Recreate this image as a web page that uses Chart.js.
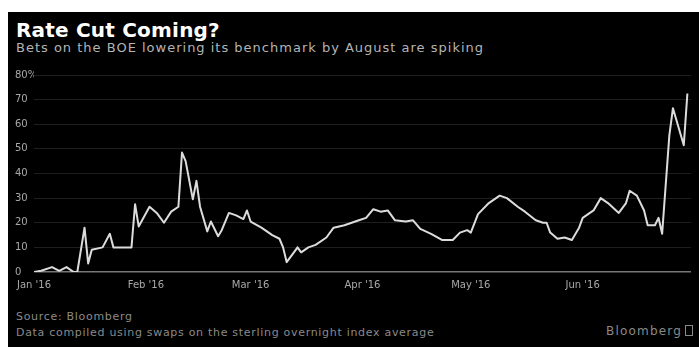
<!DOCTYPE html>
<html>
<head>
<meta charset="utf-8">
<script src="https://cdn.jsdelivr.net/npm/chart.js@4.4.1/dist/chart.umd.min.js"></script>
<style>
  html, body { margin: 0; padding: 0; background: #fff; }
  #wrap { position: relative; width: 699px; height: 347px; overflow: hidden; font-family: "DejaVu Sans", sans-serif; }
  #panel { position: absolute; left: 8px; top: 12px; width: 691px; height: 335px; background: #000; }
  #chart { position: absolute; left: 0; top: 0; }
  .txt { position: absolute; white-space: nowrap; }
  #title { left: 16px; top: 20px; font-size: 20px; line-height: 20px; font-weight: bold; color: #fff; letter-spacing: 0.2px; }
  #sub { left: 16px; top: 41px; font-size: 13px; line-height: 13px; color: #b4b4b4; letter-spacing: 1px; }
  #src { left: 16px; top: 311px; font-size: 11px; line-height: 11px; color: #8a8a8a; letter-spacing: 0.7px; }
  #note { left: 16px; top: 327px; font-size: 11px; line-height: 11px; color: #8a8a8a; letter-spacing: 0.7px; }
  #logo { left: 606px; top: 325px; font-size: 12px; line-height: 12px; color: #8a8a8a; letter-spacing: 1.2px; }
  #logo span { display: inline-block; width: 6px; height: 9px; border: 1px solid #8a8a8a; margin-left: 3px; vertical-align: -1px; }
</style>
</head>
<body>
<div id="wrap">
  <div id="panel"></div>
  <div class="txt" id="title">Rate Cut Coming?</div>
  <div class="txt" id="sub">Bets on the BOE lowering its benchmark by August are spiking</div>
  <div class="txt" id="src">Source: Bloomberg</div>
  <div class="txt" id="note">Data compiled using swaps on the sterling overnight index average</div>
  <div class="txt" id="logo">Bloomberg<span></span></div>
  <canvas id="chart" width="699" height="347"></canvas>
</div>
<script>
// days since 1 Jan 2016
const days = [0, 2, 5, 7, 9, 11, 12, 14, 15, 16, 19, 21, 22, 24, 27, 28, 29, 32, 34, 36,
  38, 40, 41, 42, 44, 45, 46, 48, 49, 51, 52, 54, 56, 58, 59, 60, 63, 66, 68, 69,
  70, 72, 73, 74, 76, 78, 81, 83, 86, 90, 92, 94, 96, 98, 100, 103, 105, 107, 110, 113,
  116, 118, 120, 121, 123, 126, 129, 131, 134, 136, 139, 141, 142, 143, 145, 147, 149, 151, 152, 155,
  157, 159, 162, 164, 165, 167, 169, 170, 172, 173, 174, 176, 177, 180, 181]

// probability of a cut, %
const odds = [0, 0.5, 2, 0.5, 2, 0, 0, 18, 3.5, 9, 10, 15.5, 10, 10, 10, 27.5, 18.5, 26.5, 24, 20,
  24.5, 26.5, 48.5, 45, 29.5, 37, 26.5, 16.5, 20.5, 14.5, 17, 24, 23, 21.5, 25, 20.5, 18, 15, 13.5, 10,
  4, 8, 10, 8, 10, 11, 14, 18, 19, 21, 22, 25.5, 24.5, 25, 21, 20.5, 21, 17.5, 15.5, 13,
  13, 16, 17, 16, 23.5, 28, 31, 30, 26.5, 24.5, 21, 20, 20, 16, 13.5, 14, 13, 18, 22, 25,
  30, 28, 24, 28, 33, 31, 25, 19, 19, 22, 15.5, 55.5, 66.5, 51.5, 72.5]

const monthDays = [0, 31, 60, 91, 121, 152]
const monthLabels = ["Jan '16", "Feb '16", "Mar '16", "Apr '16", "May '16", "Jun '16"]

const points = days.map((d, i) => ({ x: d, y: odds[i] }))

new Chart(document.getElementById('chart').getContext('2d'), {
  type: 'line',
  data: {
    datasets: [{
      data: points,
      borderColor: '#dcdcdc',
      borderWidth: 2,
      pointRadius: 0,
      tension: 0,
      borderJoinStyle: 'round'
    }]
  },
  options: {
    responsive: false,
    animation: false,
    layout: { padding: { left: 15, right: 8, top: 75, bottom: 55 } },
    plugins: { legend: { display: false }, tooltip: { enabled: false } },
    scales: {
      x: {
        type: 'linear',
        min: 0,
        max: 182,
        afterFit: s => { s.height = 20 },
        afterBuildTicks: s => { s.ticks = monthDays.map(v => ({ value: v })) },
        grid: { display: false, drawTicks: false },
        border: { display: false },
        ticks: {
          autoSkip: false,
          maxRotation: 0,
          padding: 7,
          color: '#a8a8a8',
          font: { family: 'DejaVu Sans', size: 10 },
          callback: v => monthLabels[monthDays.indexOf(v)]
        }
      },
      y: {
        min: 0,
        max: 80,
        afterFit: s => { s.width = 19 },
        grid: {
          drawTicks: false,
          color: c => c.tick.value === 0 ? '#777' : '#1e1e1e',
          lineWidth: c => c.tick.value === 0 ? 1.5 : 1
        },
        border: { display: false },
        ticks: {
          stepSize: 10,
          crossAlign: 'far',
          padding: 0,
          color: '#a8a8a8',
          font: { family: 'DejaVu Sans', size: 10 },
          callback: v => v === 80 ? '80%' : v
        }
      }
    }
  }
})
</script>
</body>
</html>
